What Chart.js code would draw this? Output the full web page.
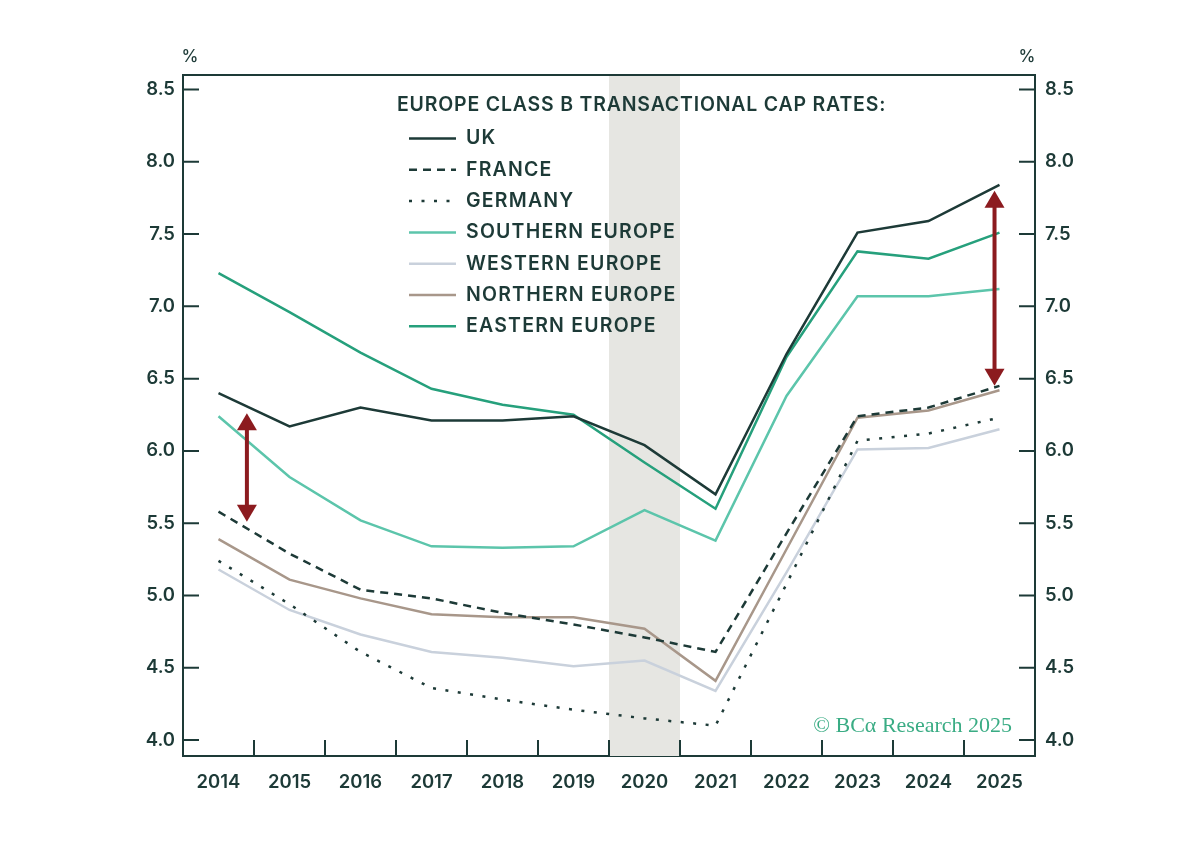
<!DOCTYPE html>
<html>
<head>
<meta charset="utf-8">
<script src="https://cdn.jsdelivr.net/npm/chart.js@4/dist/chart.umd.min.js"></script>
<style>
  html, body { margin: 0; padding: 0; background: #ffffff; }
  #wrap { width: 1200px; height: 859px; }
</style>
</head>
<body>
<div id="wrap"><canvas id="chart" width="1200" height="859"></canvas></div>
<script>
// categories and series (cap rates, %)
var years = ['2014', '2015', '2016', '2017', '2018', '2019', '2020', '2021', '2022', '2023', '2024', '2025'];
var uk       = [6.40, 6.17, 6.30, 6.21, 6.21, 6.24, 6.04, 5.70, 6.67, 7.51, 7.59, 7.84];
var france   = [5.58, 5.29, 5.04, 4.98, 4.88, 4.80, 4.71, 4.61, 5.43, 6.24, 6.30, 6.45];
var germany  = [5.24, 4.94, 4.61, 4.36, 4.28, 4.21, 4.15, 4.10, 5.08, 6.07, 6.12, 6.23];
var southern = [6.24, 5.82, 5.52, 5.34, 5.33, 5.34, 5.59, 5.38, 6.38, 7.07, 7.07, 7.12];
var western  = [5.18, 4.90, 4.73, 4.61, 4.57, 4.51, 4.55, 4.34, 5.16, 6.01, 6.02, 6.15];
var northern = [5.39, 5.11, 4.98, 4.87, 4.85, 4.85, 4.77, 4.41, 5.32, 6.23, 6.28, 6.42];
var eastern  = [7.23, 6.96, 6.68, 6.43, 6.32, 6.25, 5.92, 5.60, 6.65, 7.38, 7.33, 7.51];

var yTicks = [4.0, 4.5, 5.0, 5.5, 6.0, 6.5, 7.0, 7.5, 8.0, 8.5];
var shadedYear = '2020';

// spread arrows: position in category units, top and bottom in %
var arrowAt     = [0.40, 10.93];
var arrowTop    = [6.26, 7.80];
var arrowBottom = [5.51, 6.45];

var INK = '#1d3a37';
var FONT = 'Inter, "Noto Sans", sans-serif';

function series(label, data, color, dash) {
    return {
        label: label,
        data: data,
        borderColor: color,
        backgroundColor: color,
        borderWidth: 2.5,
        borderDash: dash || [],
        borderCapStyle: 'butt',
        pointRadius: 0,
        tension: 0,
        fill: false
    };
}

var datasets = [
    series('UK', uk, INK),
    series('FRANCE', france, INK, [8, 6]),
    series('GERMANY', germany, INK, [3, 9.5]),
    series('SOUTHERN EUROPE', southern, '#5cc5ab'),
    series('WESTERN EUROPE', western, '#c9d1dc'),
    series('NORTHERN EUROPE', northern, '#a8978a'),
    series('EASTERN EUROPE', eastern, '#26a07c')
];

// step between category centres in pixels
function catStep(x) {
    return x.getPixelForValue(1) - x.getPixelForValue(0);
}

var decor = {
    id: 'decor',
    beforeDatasetsDraw: function(chart) {
        var c = chart.ctx, a = chart.chartArea, x = chart.scales.x;
        var i = years.indexOf(shadedYear);
        var half = catStep(x) / 2;
        var px = x.getPixelForValue(i);
        c.save();
        c.fillStyle = '#e6e6e2';
        c.fillRect(px - half, a.top, half * 2, a.bottom - a.top);
        c.restore();
    },
    afterDatasetsDraw: function(chart) {
        var c = chart.ctx, a = chart.chartArea, x = chart.scales.x, y = chart.scales.y;
        c.save();

        // frame top line
        c.strokeStyle = INK;
        c.lineWidth = 2;
        c.beginPath();
        c.moveTo(a.left, a.top);
        c.lineTo(a.right, a.top);
        c.stroke();

        // inward tick marks
        var tl = 16;
        c.lineWidth = 2;
        c.beginPath();
        for (var i = 1; i < years.length; i++) {
            var bx = (x.getPixelForValue(i - 1) + x.getPixelForValue(i)) / 2;
            c.moveTo(bx, a.bottom);
            c.lineTo(bx, a.bottom - tl);
        }
        yTicks.forEach(function(v) {
            var py = y.getPixelForValue(v);
            c.moveTo(a.left, py);
            c.lineTo(a.left + tl, py);
            c.moveTo(a.right, py);
            c.lineTo(a.right - tl, py);
        });
        c.stroke();

        // arrows
        var step = catStep(x);
        c.strokeStyle = '#8c1b1f';
        c.fillStyle = '#8c1b1f';
        for (var k = 0; k < arrowAt.length; k++) {
            var ax = x.getPixelForValue(0) + arrowAt[k] * step;
            var t = y.getPixelForValue(arrowTop[k]);
            var b = y.getPixelForValue(arrowBottom[k]);
            var hl = 17, hw = 10;
            c.lineWidth = 4;
            c.beginPath();
            c.moveTo(ax, t + hl - 2);
            c.lineTo(ax, b - hl + 2);
            c.stroke();
            c.beginPath();
            c.moveTo(ax, t);
            c.lineTo(ax - hw, t + hl);
            c.lineTo(ax + hw, t + hl);
            c.closePath();
            c.fill();
            c.beginPath();
            c.moveTo(ax, b);
            c.lineTo(ax - hw, b - hl);
            c.lineTo(ax + hw, b - hl);
            c.closePath();
            c.fill();
        }

        // legend block
        c.fillStyle = INK;
        c.textBaseline = 'middle';
        c.textAlign = 'left';
        c.font = '600 19.5px ' + FONT;
        c.letterSpacing = '0.8px';
        c.fillText('EUROPE CLASS B TRANSACTIONAL CAP RATES:', 397, 105);
        c.letterSpacing = '1.2px';
        chart.data.datasets.forEach(function(ds, j) {
            var ly = 138.5 + j * 31.3;
            c.strokeStyle = ds.borderColor;
            c.lineWidth = 2.5;
            c.setLineDash(ds.borderDash);
            c.beginPath();
            c.moveTo(409, ly);
            c.lineTo(456, ly);
            c.stroke();
            c.setLineDash([]);
            c.fillStyle = INK;
            c.fillText(ds.label, 466, ly);
        });
        c.letterSpacing = '0px';

        // unit labels
        c.font = '500 17px ' + FONT;
        c.textAlign = 'center';
        c.fillText('%', 190, 57);
        c.fillText('%', 1027, 57);

        // source mark
        c.font = '22px "Liberation Serif", "DejaVu Serif", serif';
        c.fillStyle = '#3aac84';
        c.textAlign = 'right';
        c.textBaseline = 'alphabetic';
        c.fillText('\u00A9 BC\u03B1 Research 2025', 1012, 732);
        c.restore();
    }
};

var tickFont = { family: FONT, size: 18.5, weight: '600' };

var config = {
    type: 'line',
    data: { labels: years, datasets: datasets },
    options: {
        responsive: false,
        animation: false,
        layout: { padding: { top: 75, left: 0, right: 0, bottom: 0 } },
        plugins: { legend: { display: false }, tooltip: { enabled: false } },
        scales: {
            x: {
                type: 'category',
                offset: true,
                grid: { display: false, drawTicks: false, offset: true },
                border: { display: true, color: INK, width: 2 },
                ticks: { color: INK, font: tickFont, padding: 15, maxRotation: 0, autoSkip: false },
                afterFit: function(s) { s.height = 103; }
            },
            y: {
                position: 'left',
                min: 3.89,
                max: 8.6,
                grid: { display: false, drawTicks: false },
                border: { display: true, color: INK, width: 2 },
                ticks: {
                    color: INK, font: tickFont, padding: 8,
                    callback: function(v) { return Number(v).toFixed(1); }
                },
                afterBuildTicks: function(s) { s.ticks = yTicks.map(function(v) { return { value: v }; }); },
                afterFit: function(s) { s.width = 183; }
            },
            y2: {
                position: 'right',
                min: 3.89,
                max: 8.6,
                grid: { display: false, drawTicks: false },
                border: { display: true, color: INK, width: 2 },
                ticks: {
                    color: INK, font: tickFont, padding: 10,
                    callback: function(v) { return Number(v).toFixed(1); }
                },
                afterBuildTicks: function(s) { s.ticks = yTicks.map(function(v) { return { value: v }; }); },
                afterFit: function(s) { s.width = 165; }
            }
        }
    },
    plugins: [decor]
};

new Chart(document.getElementById('chart').getContext('2d'), config);
</script>
</body>
</html>
